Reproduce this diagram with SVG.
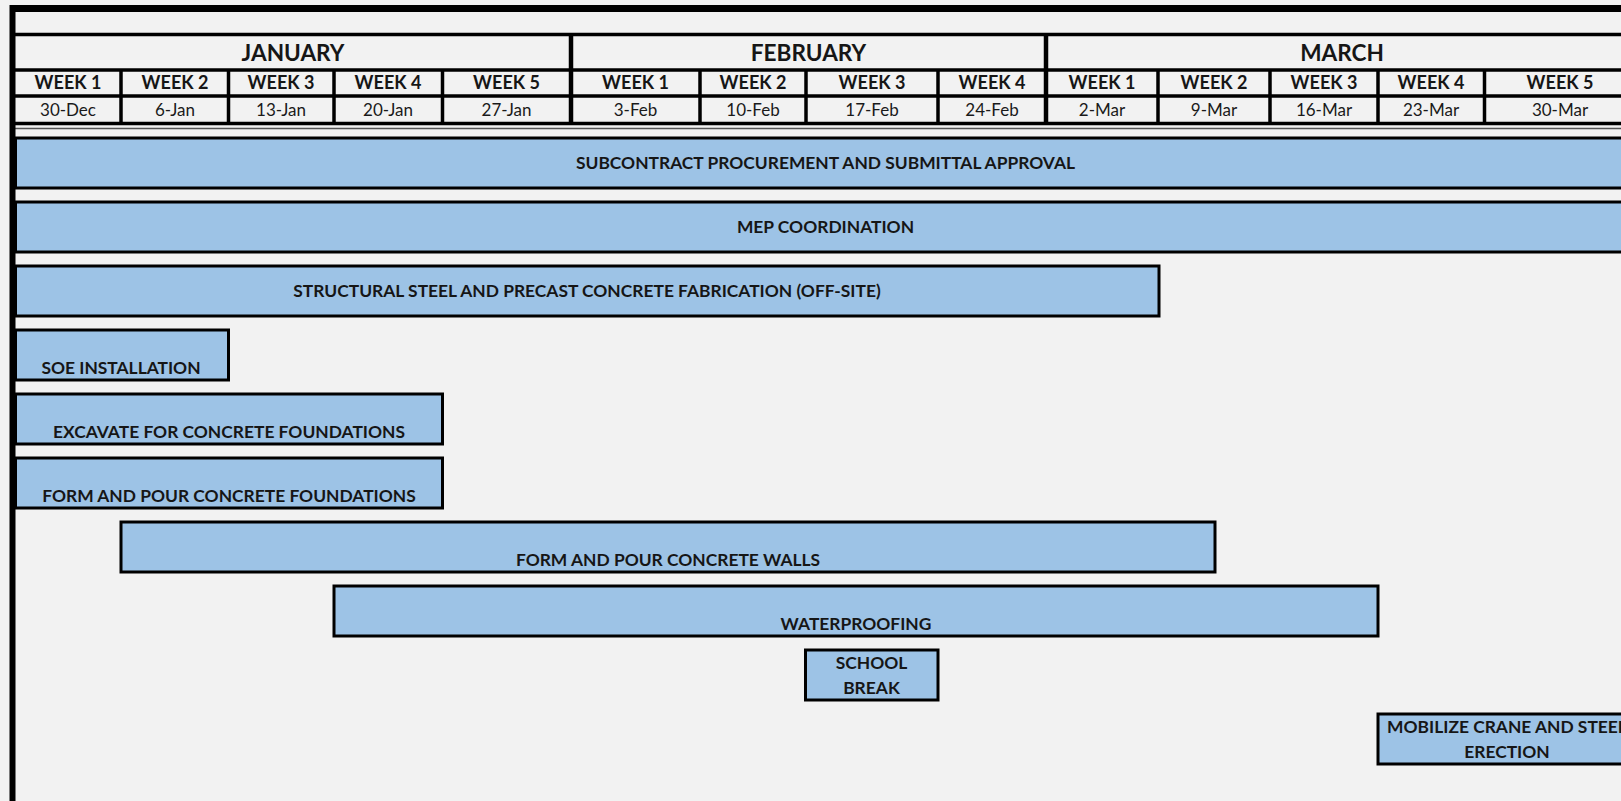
<svg xmlns="http://www.w3.org/2000/svg" width="1621" height="801" viewBox="0 0 1621 801">
<style>
.bg{fill:#f2f2f2}
.frame{stroke:#000;fill:none}
.grid{stroke:#000;stroke-width:3.5;fill:none}
.mdiv{stroke:#000;stroke-width:4.5;fill:none}
.bar{fill:#9dc3e6;stroke:#000;stroke-width:3}
.month{font-family:Lato,"Liberation Sans",sans-serif;font-weight:700;font-size:22.6px;fill:#161616;text-anchor:middle}
.week{font-family:Lato,"Liberation Sans",sans-serif;font-weight:700;font-size:18px;fill:#161616;text-anchor:middle}
.date{font-family:Lato,"Liberation Sans",sans-serif;font-weight:400;font-size:17px;fill:#1a1a1a;text-anchor:middle}
.lbl{font-family:Lato,"Liberation Sans",sans-serif;font-weight:700;font-size:17.4px;fill:#161616;text-anchor:middle}
</style>
<rect class="bg" x="0" y="0" width="1621" height="801"/>
<g id="header">
  <line class="frame" x1="10" y1="8.5" x2="1621" y2="8.5" stroke-width="7"/>
  <line class="grid" x1="13" y1="34.5" x2="1621" y2="34.5" stroke-width="4.5"/>
  <line class="grid" x1="13" y1="70" x2="1621" y2="70"/>
  <line class="grid" x1="13" y1="96" x2="1621" y2="96"/>
  <line class="grid" x1="13" y1="123.5" x2="1621" y2="123.5" stroke-width="4"/>
  <line x1="13" y1="128.5" x2="1621" y2="128.5" stroke="#555" stroke-width="1.5"/>
  <line class="mdiv" x1="571" y1="35" x2="571" y2="123"/>
  <line class="mdiv" x1="1046" y1="35" x2="1046" y2="123"/>
  <g class="grid">
    <line x1="121" y1="70" x2="121" y2="123"/>
    <line x1="228.5" y1="70" x2="228.5" y2="123"/>
    <line x1="334" y1="70" x2="334" y2="123"/>
    <line x1="442.5" y1="70" x2="442.5" y2="123"/>
    <line x1="700" y1="70" x2="700" y2="123"/>
    <line x1="806" y1="70" x2="806" y2="123"/>
    <line x1="938" y1="70" x2="938" y2="123"/>
    <line x1="1158" y1="70" x2="1158" y2="123"/>
    <line x1="1270" y1="70" x2="1270" y2="123"/>
    <line x1="1378" y1="70" x2="1378" y2="123"/>
    <line x1="1484.5" y1="70" x2="1484.5" y2="123"/>
  </g>
  <text class="month" x="293" y="61">JANUARY</text>
  <text class="month" x="808.5" y="61">FEBRUARY</text>
  <text class="month" x="1342" y="61">MARCH</text>
  <text class="week" x="68" y="89">WEEK 1</text>
  <text class="week" x="175" y="89">WEEK 2</text>
  <text class="week" x="281" y="89">WEEK 3</text>
  <text class="week" x="388" y="89">WEEK 4</text>
  <text class="week" x="506.5" y="89">WEEK 5</text>
  <text class="week" x="635.5" y="89">WEEK 1</text>
  <text class="week" x="753" y="89">WEEK 2</text>
  <text class="week" x="872" y="89">WEEK 3</text>
  <text class="week" x="992" y="89">WEEK 4</text>
  <text class="week" x="1102" y="89">WEEK 1</text>
  <text class="week" x="1214" y="89">WEEK 2</text>
  <text class="week" x="1324" y="89">WEEK 3</text>
  <text class="week" x="1431" y="89">WEEK 4</text>
  <text class="week" x="1560" y="89">WEEK 5</text>
  <text class="date" x="68" y="115.5">30-Dec</text>
  <text class="date" x="175" y="115.5">6-Jan</text>
  <text class="date" x="281" y="115.5">13-Jan</text>
  <text class="date" x="388" y="115.5">20-Jan</text>
  <text class="date" x="506.5" y="115.5">27-Jan</text>
  <text class="date" x="635.5" y="115.5">3-Feb</text>
  <text class="date" x="753" y="115.5">10-Feb</text>
  <text class="date" x="872" y="115.5">17-Feb</text>
  <text class="date" x="992" y="115.5">24-Feb</text>
  <text class="date" x="1102" y="115.5">2-Mar</text>
  <text class="date" x="1214" y="115.5">9-Mar</text>
  <text class="date" x="1324" y="115.5">16-Mar</text>
  <text class="date" x="1431" y="115.5">23-Mar</text>
  <text class="date" x="1560" y="115.5">30-Mar</text>
</g>
<g id="subcontract">
  <rect class="bar" x="15.5" y="138" width="1620" height="50"/>
  <text class="lbl" x="825.5" y="169">SUBCONTRACT PROCUREMENT AND SUBMITTAL APPROVAL</text>
</g>
<g id="mep">
  <rect class="bar" x="15.5" y="202" width="1620" height="50"/>
  <text class="lbl" x="825.5" y="233">MEP COORDINATION</text>
</g>
<g id="steel-fab">
  <rect class="bar" x="15.5" y="266" width="1143.5" height="50"/>
  <text class="lbl" x="587" y="297">STRUCTURAL STEEL AND PRECAST CONCRETE FABRICATION (OFF-SITE)</text>
</g>
<g id="soe">
  <rect class="bar" x="15.5" y="330" width="213" height="50"/>
  <text class="lbl" x="121" y="374">SOE INSTALLATION</text>
</g>
<g id="excavate">
  <rect class="bar" x="15.5" y="394" width="427" height="50"/>
  <text class="lbl" x="229" y="438">EXCAVATE FOR CONCRETE FOUNDATIONS</text>
</g>
<g id="foundations">
  <rect class="bar" x="15.5" y="458" width="427" height="50"/>
  <text class="lbl" x="229" y="502">FORM AND POUR CONCRETE FOUNDATIONS</text>
</g>
<g id="walls">
  <rect class="bar" x="121" y="522" width="1094" height="50"/>
  <text class="lbl" x="668" y="566">FORM AND POUR CONCRETE WALLS</text>
</g>
<g id="waterproofing">
  <rect class="bar" x="334" y="586" width="1044" height="50"/>
  <text class="lbl" x="856" y="630">WATERPROOFING</text>
</g>
<g id="school-break">
  <rect class="bar" x="805.5" y="650" width="132.5" height="50"/>
  <text class="lbl" x="871.5" y="668.5">SCHOOL</text>
  <text class="lbl" x="871.5" y="693.5">BREAK</text>
</g>
<g id="mobilize">
  <rect class="bar" x="1378" y="714" width="258" height="50"/>
  <text class="lbl" x="1507" y="732.5">MOBILIZE CRANE AND STEEL</text>
  <text class="lbl" x="1507" y="758">ERECTION</text>
</g>
<line id="frame-left" class="frame" x1="12.5" y1="5" x2="12.5" y2="801" stroke-width="6"/>
</svg>
